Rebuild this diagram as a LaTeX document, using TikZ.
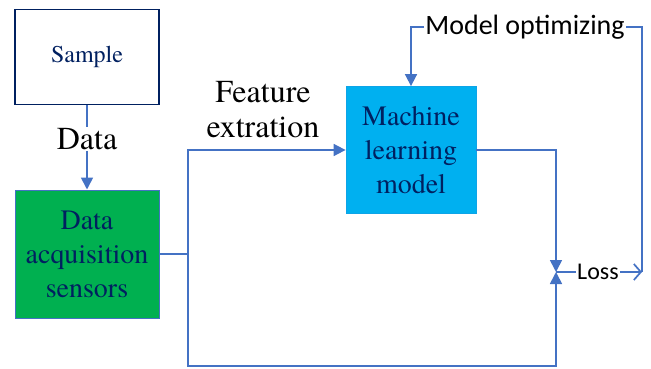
\documentclass[tikz,border=0pt]{standalone}
\usepackage{fontspec}
\setmainfont{texgyretermes}[Extension=.otf, UprightFont=*-regular, BoldFont=*-bold]
\newfontfamily\timesfont{texgyretermes}[Extension=.otf, UprightFont=*-regular]
\newfontfamily\calibri{Carlito}
\usetikzlibrary{arrows.meta,positioning}

\definecolor{lineblue}{HTML}{4472C4}
\definecolor{navy}{HTML}{002060}
\definecolor{boxgreen}{HTML}{00B050}
\definecolor{boxcyan}{HTML}{00B0F0}

\tikzset{
	block/.style={align=center, inner sep=0pt, text=navy, font=\timesfont\fontsize{28}{34}\selectfont},
	flow/.style={draw=lineblue, line width=1.7pt},
	arr/.style={flow, -{Triangle[length=12pt,width=12pt]}},
	barb/.style={flow, -{Straight Barb[length=7pt,width=16pt]}},
	lbl/.style={align=center, inner sep=1pt, font=\timesfont\fontsize{32}{35}\selectfont},
}

\begin{document}
\begin{tikzpicture}[x=1pt,y=-1pt]
	\useasboundingbox (0,0) rectangle (651,369);

	% boxes
	\node[block, draw=navy, line width=1.2pt, fill=white, minimum width=144pt, minimum height=95pt,
		font=\timesfont\fontsize{24}{28}\selectfont] (sample) at (87,57) {Sample};
	\node[block, draw=lineblue, line width=1pt, fill=boxgreen, minimum width=144pt, minimum height=128pt]
		(sensors) at (87,254) {Data\\acquisition\\sensors};
	\node[block, draw=boxcyan!80!lineblue, line width=0.8pt, fill=boxcyan, minimum width=130pt, minimum height=127pt]
		(ml) at (411,150) {Machine\\learning\\model};

	% labels on the lines
	\node[lbl] (data) at (87,139) {Data};
	\node[lbl] (feature) at (263,110) {Feature\\extration};
	\node[lbl, font=\calibri\fontsize{24}{28}\selectfont] (loss) at (598,272) {Loss};
	\node[lbl, font=\calibri\fontsize{28}{32}\selectfont] (optim) at (525,27) {Model optimizing};

	\coordinate (split) at (188,254);
	\coordinate (low) at (188,366);
	\coordinate (junction) at (556,272);
	\coordinate (corner) at (642,272);

	% connectors
	\draw[flow] (sample.south) -- (data.north);
	\draw[arr] (data.south) -- (sensors.north);
	\draw[flow] (sensors.east) -- (split);
	\draw[arr] (split) |- (ml.west);
	\draw[arr] (split) -- (low) -| (junction);
	\draw[arr] (ml.east) -| (junction);
	\draw[flow] (junction) -- (loss.west);
	\draw[barb] (loss.east) -- (corner);
	\draw[flow] (corner) |- (optim.east);
	\draw[arr] (optim.west) -| (ml.north);
\end{tikzpicture}
\end{document}
